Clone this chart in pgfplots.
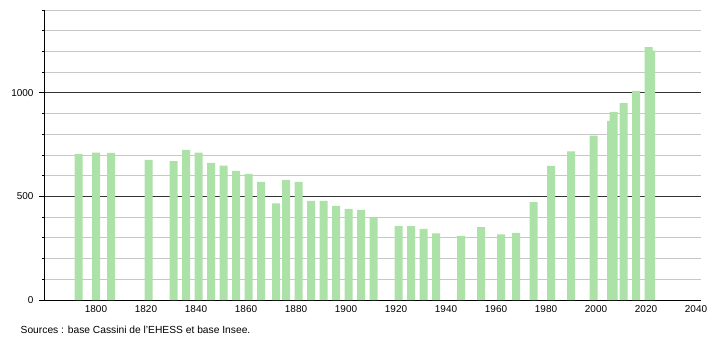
\documentclass[border=0pt]{standalone}
\usepackage{pgfplots}
\pgfplotsset{compat=1.18}
\usepackage{fontspec}
\setmainfont{Liberation Sans}
\definecolor{barg}{RGB}{172,226,168}
\begin{document}
\begin{tikzpicture}[x=1bp,y=1bp]
\path[use as bounding box] (0,0) rectangle (710,340);
\begin{axis}[
  at={(44bp,40bp)}, anchor=south west,
  scale only axis, width=657bp, height=290bp,
  xmin=1779.2, xmax=2042, ymin=0, ymax=1400,
  axis x line*=bottom, axis y line*=left,
  axis line style={-, black, line width=0.8bp},
  ytick={0,500,1000},
  minor ytick={100,200,...,1400},
  ymajorgrids, yminorgrids,
  major grid style={black!80, line width=0.8bp},
  minor grid style={black!22, line width=0.8bp},
  tick align=outside,
  major tick length=5bp, minor tick length=2bp,
  y tick style={black, line width=0.8bp},
  xtick={1800,1820,...,2040},
  x tick style={draw=none},
  tick label style={font=\fontsize{10}{12}\selectfont},
  yticklabel style={xshift=-2bp},
  xticklabel style={yshift=2.5bp},
  /pgf/number format/assume math mode=true,
  /pgf/number format/1000 sep={},
  ybar, bar width=8bp,
]
\addplot[fill=barg, draw=none] coordinates {
(1793,705) (1800,712) (1806,710) (1821,676) (1831,671) (1836,725) (1841,712)
(1846,662) (1851,649) (1856,623) (1861,609) (1866,570) (1872,467) (1876,580)
(1881,570) (1886,478) (1891,478) (1896,454) (1901,440) (1906,435) (1911,395)
(1921,357) (1926,357) (1931,343) (1936,322) (1946,309) (1954,352) (1962,317)
(1968,324) (1975,473) (1982,647) (1990,718) (1999,794) (2006,865) (2007,908)
(2011,950) (2016,1010) (2021,1221) (2022,1204)
};
\end{axis}
\node[anchor=west, font=\fontsize{10.3}{12}\selectfont, inner sep=0pt] at (20.5,10.5) {Sources : base Cassini de l'EHESS et base Insee.};
\end{tikzpicture}
\end{document}
